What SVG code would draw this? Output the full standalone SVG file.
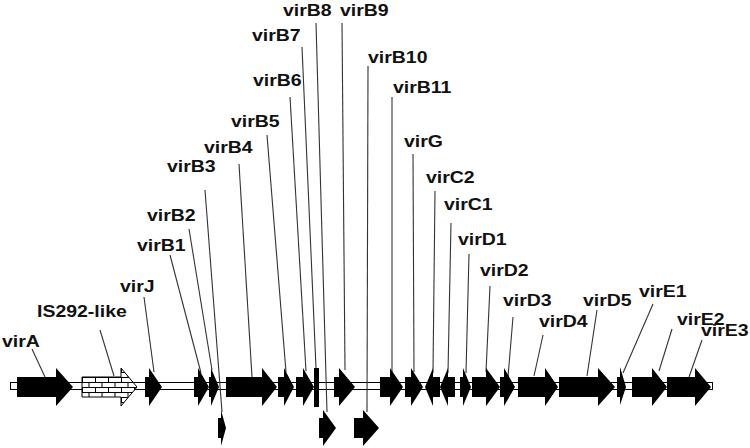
<svg xmlns="http://www.w3.org/2000/svg" width="750" height="448" viewBox="0 0 750 448">
<style>
.g{fill:#000;stroke:none}
.t{font-family:"Liberation Sans",Arial,sans-serif;font-weight:bold;font-size:16.5px;fill:#111}
.c line{stroke:#333;stroke-width:1.1}
</style>
<defs>
<pattern id="brick" patternUnits="userSpaceOnUse" x="82" y="377" width="13" height="10">
<rect width="13" height="10" fill="#fff"/>
<path d="M0 0.5H13M0 5.5H13M0.5 0V5.5M7 5.5V10" stroke="#000" stroke-width="1" fill="none"/>
</pattern>
</defs>
<rect width="750" height="448" fill="#fff"/>
<rect id="backbone" x="10.5" y="382.5" width="702" height="7" fill="#fff" stroke="#000" stroke-width="1"/>
<g class="c" id="connectors">
<line x1="32" y1="349" x2="45" y2="377"/>
<line x1="100" y1="330" x2="114" y2="376"/>
<line x1="144" y1="297" x2="154" y2="372"/>
<line x1="170" y1="255" x2="201" y2="373"/>
<line x1="189" y1="229" x2="212" y2="370"/>
<line x1="205" y1="190" x2="222" y2="412"/>
<line x1="239" y1="164" x2="252" y2="377"/>
<line x1="267" y1="135" x2="286" y2="372"/>
<line x1="290" y1="97" x2="306" y2="371"/>
<line x1="302" y1="47" x2="316" y2="368"/>
<line x1="316" y1="23" x2="327" y2="412"/>
<line x1="342" y1="23" x2="345" y2="370"/>
<line x1="368" y1="66" x2="367" y2="412"/>
<line x1="392" y1="97" x2="392" y2="372"/>
<line x1="413" y1="154" x2="414" y2="372"/>
<line x1="435" y1="191" x2="433" y2="373"/>
<line x1="451" y1="223" x2="448" y2="373"/>
<line x1="469" y1="254" x2="466" y2="373"/>
<line x1="490" y1="286" x2="486" y2="372"/>
<line x1="513" y1="317" x2="508" y2="377"/>
<line x1="543" y1="335" x2="534" y2="376"/>
<line x1="597" y1="310" x2="587" y2="376"/>
<line x1="653" y1="304" x2="623" y2="373"/>
<line x1="672" y1="329" x2="659" y2="371"/>
<line x1="702" y1="340" x2="689" y2="377"/>
</g>
<g id="virA"><polygon class="g" points="17,377 56,377 56,368 73,387 56,406 56,397 17,397"/><text class="t" transform="matrix(1.18 0 0 1 2 347)">virA</text></g>
<g id="IS292-like"><polygon points="82,377 121,377 121,368 137,387 121,406 121,397 82,397" fill="url(#brick)" stroke="#000" stroke-width="1"/><text class="t" transform="matrix(1.18 0 0 1 37 317)">IS292-like</text></g>
<g id="virJ"><polygon class="g" points="145,377 149,377 149,368 162,387 149,406 149,397 145,397"/><text class="t" transform="matrix(1.18 0 0 1 120 292)">virJ</text></g>
<g id="virB1"><polygon class="g" points="194,377 198,377 198,368 209,387 198,406 198,397 194,397"/><text class="t" transform="matrix(1.18 0 0 1 137 251)">virB1</text></g>
<g id="virB2"><polygon class="g" points="209,377 211,377 211,368 219,387 211,406 211,397 209,397"/><text class="t" transform="matrix(1.18 0 0 1 147 221)">virB2</text></g>
<g id="virB3"><polygon class="g" points="218,418 221,418 221,410 226,428 221,446 221,438 218,438"/><text class="t" transform="matrix(1.18 0 0 1 167 172)">virB3</text></g>
<g id="virB4"><polygon class="g" points="226,377 262,377 262,368 277,387 262,406 262,397 226,397"/><text class="t" transform="matrix(1.18 0 0 1 204 153)">virB4</text></g>
<g id="virB5"><polygon class="g" points="278,377 284,377 284,368 294,387 284,406 284,397 278,397"/><text class="t" transform="matrix(1.18 0 0 1 231 127)">virB5</text></g>
<g id="virB6"><polygon class="g" points="296,377 303,377 303,368 314,387 303,406 303,397 296,397"/><text class="t" transform="matrix(1.18 0 0 1 253 86)">virB6</text></g>
<g id="virB7"><rect class="g" x="314" y="368" width="5" height="39"/><text class="t" transform="matrix(1.18 0 0 1 252 41)">virB7</text></g>
<g id="virB8"><polygon class="g" points="319,418 323,418 323,410 336,428 323,446 323,438 319,438"/><text class="t" transform="matrix(1.18 0 0 1 283 16)">virB8</text></g>
<g id="virB9"><polygon class="g" points="334,377 339,377 339,368 355,387 339,406 339,397 334,397"/><text class="t" transform="matrix(1.18 0 0 1 340 16)">virB9</text></g>
<g id="virB10"><polygon class="g" points="354,418 363,418 363,410 379,428 363,446 363,438 354,438"/><text class="t" transform="matrix(1.18 0 0 1 368 63)">virB10</text></g>
<g id="virB11"><polygon class="g" points="380,377 390,377 390,368 403,387 390,406 390,397 380,397"/><text class="t" transform="matrix(1.18 0 0 1 393 93)">virB11</text></g>
<g id="virG"><polygon class="g" points="405,377 411,377 411,368 423,387 411,406 411,397 405,397"/><text class="t" transform="matrix(1.18 0 0 1 404 147)">virG</text></g>
<g id="virC2"><polygon class="g" points="425,387 433,368 433,377 440,377 440,397 433,397 433,406"/><text class="t" transform="matrix(1.18 0 0 1 426 183)">virC2</text></g>
<g id="virC1"><polygon class="g" points="440,387 448,368 448,377 455,377 455,397 448,397 448,406"/><text class="t" transform="matrix(1.18 0 0 1 444 210)">virC1</text></g>
<g id="virD1"><polygon class="g" points="460,377 463,377 463,368 471,387 463,406 463,397 460,397"/><text class="t" transform="matrix(1.18 0 0 1 458 245)">virD1</text></g>
<g id="virD2"><polygon class="g" points="472,377 486,377 486,368 500,387 486,406 486,397 472,397"/><text class="t" transform="matrix(1.18 0 0 1 480 276)">virD2</text></g>
<g id="virD3"><polygon class="g" points="500,377 504,377 504,368 515,387 504,406 504,397 500,397"/><text class="t" transform="matrix(1.18 0 0 1 503 306)">virD3</text></g>
<g id="virD4"><polygon class="g" points="518,377 545,377 545,368 558,387 545,406 545,397 518,397"/><text class="t" transform="matrix(1.18 0 0 1 539 327)">virD4</text></g>
<g id="virD5"><polygon class="g" points="559,377 598,377 598,368 615,387 598,406 598,397 559,397"/><text class="t" transform="matrix(1.18 0 0 1 583 306)">virD5</text></g>
<g id="virE1"><polygon class="g" points="617,377 620,377 620,367 626,387 620,405 620,397 617,397"/><text class="t" transform="matrix(1.18 0 0 1 639 297)">virE1</text></g>
<g id="virE2"><polygon class="g" points="632,377 652,377 652,368 667,387 652,406 652,397 632,397"/><text class="t" transform="matrix(1.18 0 0 1 677 325)">virE2</text></g>
<g id="virE3"><polygon class="g" points="667,377 695,377 695,368 711,387 695,406 695,397 667,397"/><text class="t" transform="matrix(1.18 0 0 1 701 336)">virE3</text></g>
</svg>
